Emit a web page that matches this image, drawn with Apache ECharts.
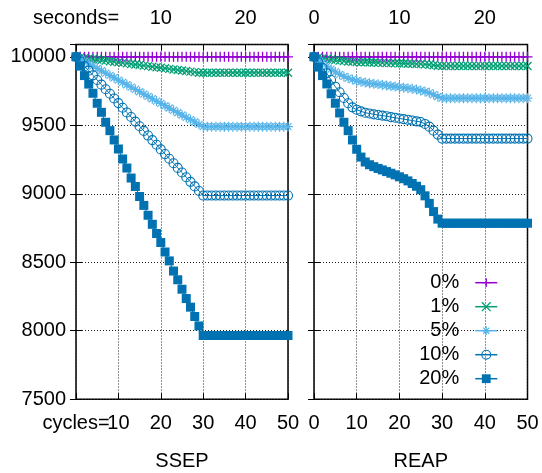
<!DOCTYPE html>
<html>
<head>
<meta charset="utf-8">
<script src="https://cdn.jsdelivr.net/npm/echarts@6/dist/echarts.min.js"></script>
<style>
html, body { margin: 0; padding: 0; background: #fff; }
#chart { width: 542px; height: 473px; }
</style>
</head>
<body>
<div id="chart"></div>
<script>
// Surviving nodes per cycle for two protocols under different loss rates.
const cycles = [0,1,2,3,4,5,6,7,8,9,10,11,12,13,14,15,16,17,18,19,20,21,22,23,24,25,26,27,28,29,30,31,32,33,34,35,36,37,38,39,40,41,42,43,44,45,46,47,48,49,50];
const lossRates = ['0%', '1%', '5%', '10%', '20%'];
const panelNames = ['SSEP', 'REAP'];

const ssep0 = [10000,10000,10000,10000,10000,10000,10000,10000,10000,10000,10000,10000,10000,10000,10000,10000,10000,10000,10000,10000,10000,10000,10000,10000,10000,10000,10000,10000,10000,10000,10000,10000,10000,10000,10000,10000,10000,10000,10000,10000,10000,10000,10000,10000,10000,10000,10000,10000,10000,10000,10000];
const ssep1 = [10000,9996,9992,9988,9984,9980,9976,9972,9968,9964,9960,9956,9952,9948,9944,9940,9936,9932,9928,9924,9920,9916,9912,9908,9904,9900,9896,9892,9888,9884,9884,9884,9884,9884,9884,9884,9884,9884,9884,9884,9884,9884,9884,9884,9884,9884,9884,9884,9884,9884,9884];
const ssep5 = [10000,9983,9966,9949,9932,9915,9898,9881,9864,9847,9830,9813,9796,9779,9762,9745,9728,9711,9694,9677,9660,9643,9626,9609,9592,9575,9558,9541,9524,9507,9490,9490,9490,9490,9490,9490,9490,9490,9490,9490,9490,9490,9490,9490,9490,9490,9490,9490,9490,9490,9490];
const ssep10 = [10000,9966,9932,9899,9865,9831,9797,9763,9730,9696,9662,9628,9594,9561,9527,9493,9459,9425,9392,9358,9324,9290,9256,9223,9189,9155,9121,9087,9054,9020,8987,8987,8987,8987,8987,8987,8987,8987,8987,8987,8987,8987,8987,8987,8987,8987,8987,8987,8987,8987,8987];
const ssep20 = [10000,9932,9863,9801,9734,9661,9595,9522,9461,9393,9327,9254,9188,9115,9053,8980,8915,8843,8777,8710,8644,8575,8510,8436,8372,8303,8235,8172,8104,8035,7965,7965,7965,7965,7965,7965,7965,7965,7965,7965,7965,7965,7965,7965,7965,7965,7965,7965,7965,7965,7965];

const reap0 = [10000,10000,10000,10000,10000,10000,10000,10000,10000,10000,10000,10000,10000,10000,10000,10000,10000,10000,10000,10000,10000,10000,10000,10000,10000,10000,10000,10000,10000,10000,10000,10000,10000,10000,10000,10000,10000,10000,10000,10000,10000,10000,10000,10000,10000,10000,10000,10000,10000,10000,10000];
const reap1 = [10000,9995,9990,9985,9980,9976,9972,9969,9966,9964,9962,9961,9960,9959,9958,9957,9956,9955,9954,9953,9952,9951,9950,9949,9948,9947,9945,9942,9938,9935,9933,9933,9933,9933,9933,9933,9933,9933,9933,9933,9933,9933,9933,9933,9933,9933,9933,9933,9933,9933,9933];
const reap5 = [10000,9978,9955,9932,9910,9890,9872,9857,9845,9834,9825,9818,9812,9807,9803,9799,9795,9791,9787,9783,9779,9775,9771,9766,9761,9755,9747,9737,9724,9710,9698,9698,9698,9698,9698,9698,9698,9698,9698,9698,9698,9698,9698,9698,9698,9698,9698,9698,9698,9698,9698];
const reap10 = [10000,9960,9918,9880,9831,9782,9741,9699,9661,9631,9614,9602,9592,9586,9580,9575,9571,9566,9560,9555,9550,9545,9540,9535,9529,9524,9510,9490,9461,9432,9403,9403,9403,9403,9403,9403,9403,9403,9403,9403,9403,9403,9403,9403,9403,9403,9403,9403,9403,9403,9403];
const reap20 = [10000,9925,9863,9802,9730,9661,9590,9522,9461,9393,9325,9268,9232,9212,9198,9185,9174,9162,9150,9138,9124,9110,9094,9075,9055,9030,8985,8930,8870,8815,8785,8785,8785,8785,8785,8785,8785,8785,8785,8785,8785,8785,8785,8785,8785,8785,8785,8785,8785,8785,8785];

const yTicks = [7500, 8000, 8500, 9000, 9500, 10000];
const secondsTicks = [0, 10, 20];

const panelData = [
  [ssep0, ssep1, ssep5, ssep10, ssep20],
  [reap0, reap1, reap5, reap10, reap20]
];

// Marker and colour per loss rate (gnuplot-like point types)
const FONT = 'Liberation Sans';
const colors = ['#9400d3', '#009e73', '#56b4e9', '#0072b2', '#0072b2'];
const markers = [
  { symbol: 'path://M5,0L5,10M0,5L10,5', size: 10, fill: null, bw: 1.3 },
  { symbol: 'path://M0,0L10,10M10,0L0,10', size: 8, fill: null, bw: 1.3 },
  { symbol: 'path://M5,0L5,10M0,5L10,5M1.5,1.5L8.5,8.5M8.5,1.5L1.5,8.5', size: 10, fill: null, bw: 1.2 },
  { symbol: 'circle', size: 9, fill: 'transparent', bw: 1.1 },
  { symbol: 'rect', size: 9, fill: 'solid', bw: 0 }
];

const GRID_TOP = 44.5, GRID_H = 354.7;
const grids = [
  { left: 76, top: GRID_TOP, width: 212, height: GRID_H, show: true, borderColor: '#000', borderWidth: 1.5, outerBoundsMode: 'none', containLabel: false },
  { left: 314, top: GRID_TOP, width: 213.5, height: GRID_H, show: true, borderColor: '#000', borderWidth: 1.5, outerBoundsMode: 'none', containLabel: false }
];

const dotted = { color: '#222', width: 1, type: [1, 2] };
const tick = { show: true, inside: true, length: 6, lineStyle: { color: '#000', width: 1 } };
const labelStyle = { fontFamily: FONT, fontSize: 20, color: '#000' };
const X_LABEL_MARGIN = 14;

const xAxes = [];
const yAxes = [];
panelNames.forEach(function (name, p) {
  xAxes.push({
    type: 'value', gridIndex: p, position: 'bottom', min: 0, max: 50, interval: 10,
    axisLine: { show: false }, axisTick: tick,
    splitLine: { show: true, lineStyle: dotted },
    axisLabel: Object.assign({}, labelStyle, {
      margin: X_LABEL_MARGIN, showMinLabel: true, showMaxLabel: true, hideOverlap: false,
      // the left panel's zero position carries the "cycles=" prefix (drawn separately)
      formatter: function (v) { return (p === 0 && v === 0) ? '' : String(v); }
    }),
    name: name, nameLocation: 'middle', nameGap: 52,
    nameTextStyle: { fontFamily: FONT, fontSize: 20, color: '#000' }
  });
  xAxes.push({
    type: 'value', gridIndex: p, position: 'top', min: 0, max: 25, interval: 5,
    axisLine: { show: false }, axisTick: tick, splitLine: { show: false },
    axisLabel: Object.assign({}, labelStyle, {
      margin: 16, showMinLabel: true, hideOverlap: false,
      formatter: function (v) {
        if (secondsTicks.indexOf(v) < 0) return '';
        return (p === 0 && v === 0) ? 'seconds=' : String(v);
      }
    })
  });
  yAxes.push({
    type: 'value', gridIndex: p, position: 'left', min: 7500, max: 10090, interval: 500,
    axisLine: { show: false }, axisTick: tick,
    splitLine: { show: true, lineStyle: dotted },
    axisLabel: Object.assign({}, labelStyle, {
      show: p === 0, margin: 10, showMinLabel: true, showMaxLabel: false,
      formatter: function (v) { return yTicks.indexOf(v) >= 0 ? String(v) : ''; }
    })
  });
  yAxes.push({
    type: 'value', gridIndex: p, position: 'right', min: 7500, max: 10090, interval: 500,
    axisLine: { show: false }, axisTick: tick, splitLine: { show: false },
    axisLabel: { show: false }
  });
});

function markerStyle(i) {
  const m = markers[i];
  const c = colors[i];
  if (m.fill === 'transparent') return { color: 'transparent', borderColor: c, borderWidth: m.bw };
  if (m.fill === 'solid') return { color: c, borderWidth: 0 };
  return { color: c, borderColor: c, borderWidth: m.bw };
}

const series = [];
panelData.forEach(function (sets, p) {
  sets.forEach(function (vals, i) {
    series.push({
      type: 'line', name: lossRates[i],
      xAxisIndex: p * 2, yAxisIndex: p * 2,
      data: cycles.map(function (c, k) { return [c, vals[k]]; }),
      symbol: markers[i].symbol, symbolSize: markers[i].size,
      showAllSymbol: true, clip: false,
      lineStyle: { color: colors[i], width: 1 },
      itemStyle: markerStyle(i),
      emphasis: { disabled: true },
      z: 2 + i
    });
  });
});

const chart = echarts.init(document.getElementById('chart'), null, { renderer: 'canvas' });
chart.setOption({
  animation: false,
  backgroundColor: '#fff',
  grid: grids,
  xAxis: xAxes,
  yAxis: yAxes,
  legend: {
    orient: 'vertical', align: 'right', right: 44, top: 272.7, padding: 0,
    itemWidth: 22, itemHeight: 11, itemGap: 4, selectedMode: false,
    textStyle: { fontFamily: FONT, fontSize: 20, color: '#000', padding: [0, 11, 0, 0] },
    data: lossRates.map(function (n, i) {
      return { name: n, itemStyle: markerStyle(i), lineStyle: { color: colors[i], width: 1.5 } };
    })
  },
  series: series
});

// "cycles=" prefix placed under the zero position of the left panel's x axis
const zeroX = chart.convertToPixel({ xAxisIndex: 0 }, 0);
chart.setOption({
  graphic: [{
    type: 'text', x: zeroX, y: GRID_TOP + GRID_H + X_LABEL_MARGIN,
    style: { text: 'cycles=', fontFamily: FONT, fontSize: 20, fill: '#000', align: 'center', verticalAlign: 'top' },
    silent: true
  }]
});
</script>
</body>
</html>
